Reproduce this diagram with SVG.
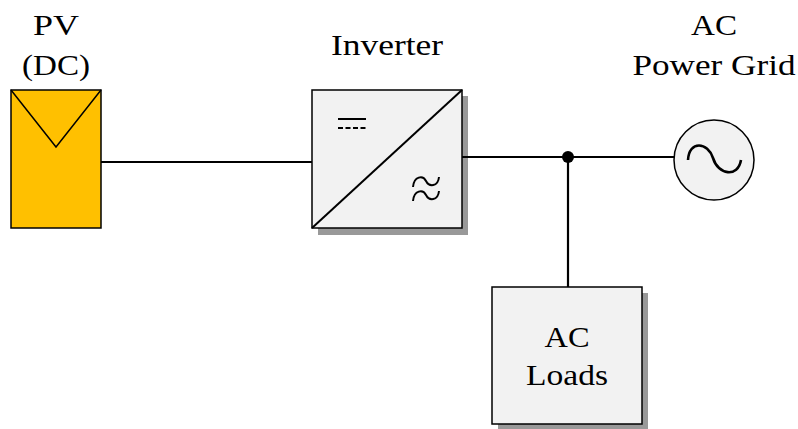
<svg xmlns="http://www.w3.org/2000/svg" width="798" height="429" viewBox="0 0 798 429">
<style>
text{font-family:"Liberation Serif","DejaVu Serif",serif;font-size:29px;fill:#000;text-anchor:middle}
.box{fill:#f2f2f2;stroke:#000;stroke-width:1.5}
.sh{fill:#999;stroke:none}
.ln{fill:none;stroke:#000;stroke-width:2.2}
</style>
<rect width="798" height="429" fill="#fff"/>
<g id="pv">
<rect x="11" y="90" width="90" height="138" fill="#ffc000" stroke="#000" stroke-width="1.5"/>
<polyline points="11,90 56,147 101,90" fill="none" stroke="#000" stroke-width="1.5"/>
<text x="56" y="35" textLength="46" lengthAdjust="spacingAndGlyphs">PV</text>
<text x="56" y="75" textLength="68" lengthAdjust="spacingAndGlyphs">(DC)</text>
</g>
<g id="inverter">
<rect class="sh" x="318" y="96" width="150" height="139"/>
<rect class="box" x="312" y="90" width="150" height="138"/>
<line x1="312" y1="228" x2="462" y2="90" stroke="#000" stroke-width="2"/>
<line x1="338" y1="119" x2="366" y2="119" stroke="#000" stroke-width="2"/>
<line x1="338" y1="128" x2="366" y2="128" stroke="#000" stroke-width="2" stroke-dasharray="5,2.5"/>
<path d="M413,187 C414,176 423,175 426,181 C429,187 438,187 439,177 M413,201 C414,190 423,189 426,195 C429,201 438,201 439,191" fill="none" stroke="#000" stroke-width="2"/>
<text x="387" y="55" textLength="112" lengthAdjust="spacingAndGlyphs">Inverter</text>
</g>
<g id="grid">
<circle cx="714" cy="160" r="40" class="box"/>
<path d="M688,160 C689,140 708,142 713,158 C718,175 738,178 741,160" fill="none" stroke="#000" stroke-width="2.6"/>
<text x="714" y="35" textLength="46" lengthAdjust="spacingAndGlyphs">AC</text>
<text x="714" y="75" textLength="163" lengthAdjust="spacingAndGlyphs">Power Grid</text>
</g>
<g id="loads">
<rect class="sh" x="498" y="293" width="150" height="137"/>
<rect class="box" x="492" y="287" width="150" height="137"/>
<text x="567" y="347" textLength="45" lengthAdjust="spacingAndGlyphs">AC</text>
<text x="567" y="385" textLength="82" lengthAdjust="spacingAndGlyphs">Loads</text>
</g>
<g id="connectors">
<line class="ln" x1="101" y1="162" x2="312" y2="162"/>
<line class="ln" x1="462" y1="157" x2="674" y2="157"/>
<line class="ln" x1="568" y1="157" x2="568" y2="287"/>
<circle cx="568" cy="157" r="6" fill="#000"/>
</g>
</svg>
